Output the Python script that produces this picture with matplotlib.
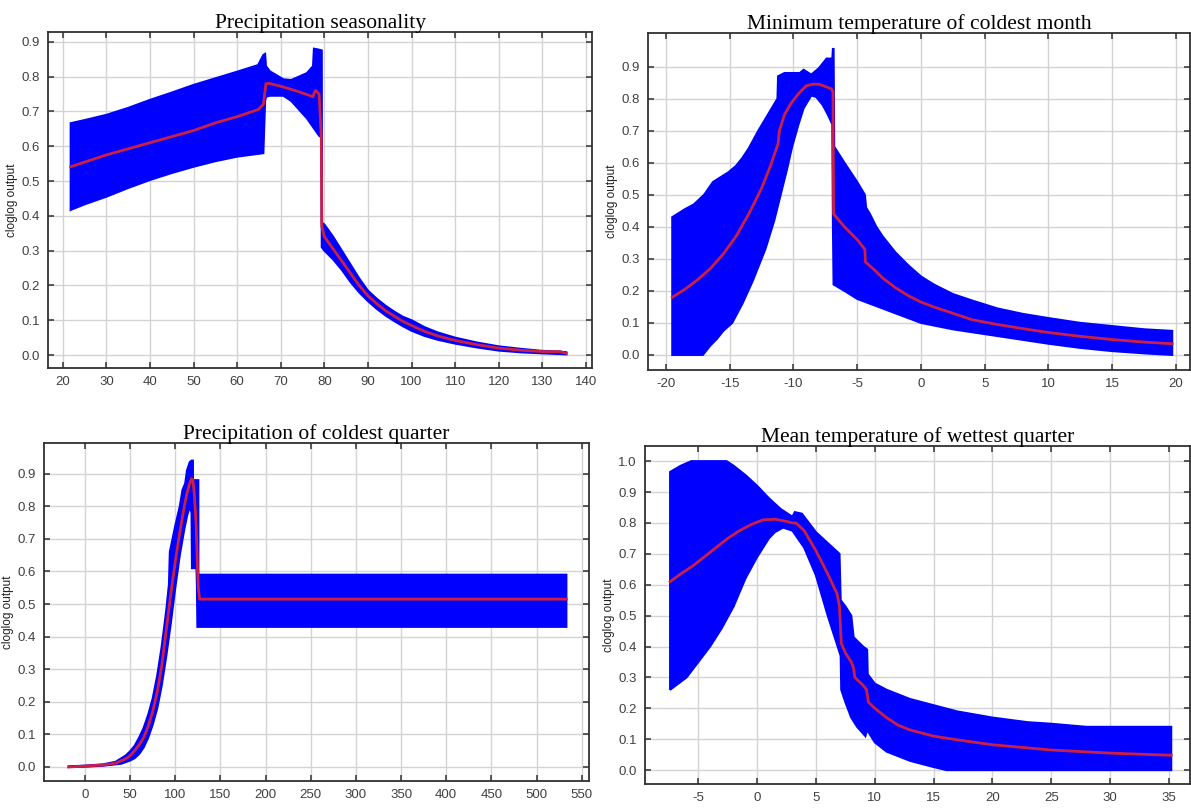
import numpy as np
import matplotlib
matplotlib.use("Agg")
from matplotlib import pyplot as plt

# Precipitation seasonality
ps_mean_x = [21.8, 30, 40, 50, 55, 60, 64.8, 66.0, 66.4, 66.6, 67.5, 70.6, 74, 77.4, 77.7, 78.0, 78.8, 79.3, 79.4, 80, 82, 84, 86, 88, 90, 92, 94, 96, 98, 100, 103, 106, 110, 115, 120, 125, 130, 134, 135.5]
ps_mean   = [0.541, 0.575, 0.61, 0.645, 0.667, 0.685, 0.705, 0.72, 0.76, 0.78, 0.78, 0.77, 0.757, 0.742, 0.755, 0.76, 0.75, 0.62, 0.37, 0.34, 0.305, 0.27, 0.235, 0.2, 0.17, 0.148, 0.128, 0.112, 0.097, 0.085, 0.068, 0.055, 0.042, 0.03, 0.02, 0.014, 0.01, 0.01, 0.005]
ps_up_x   = [21.8, 25, 30, 35, 40, 45, 50, 55, 60, 64.8, 65.5, 66.0, 66.4, 66.6, 67.5, 70.6, 72.4, 76.0, 77.4, 77.6, 78.5, 79.4, 79.45, 80, 82, 84, 86, 88, 90, 92, 94, 96, 98, 100, 103, 106, 110, 115, 120, 125, 130, 134, 135.5]
ps_upper  = [0.666, 0.675, 0.69, 0.71, 0.733, 0.754, 0.776, 0.795, 0.814, 0.833, 0.85, 0.862, 0.865, 0.83, 0.815, 0.792, 0.79, 0.81, 0.83, 0.88, 0.878, 0.875, 0.38, 0.375, 0.34, 0.3, 0.26, 0.22, 0.185, 0.162, 0.142, 0.125, 0.11, 0.1, 0.08, 0.065, 0.05, 0.036, 0.025, 0.018, 0.012, 0.01, 0.008]
ps_lo_x   = [135.5, 134, 130, 125, 120, 115, 110, 106, 103, 100, 98, 96, 94, 92, 90, 88, 86, 84, 82, 80, 79.4, 79.35, 78.8, 76.0, 72.4, 70.6, 67.5, 66.6, 66.4, 66.0, 60, 55, 50, 45, 40, 35, 30, 25, 21.8]
ps_lower  = [0.002, 0.003, 0.005, 0.008, 0.013, 0.022, 0.033, 0.044, 0.055, 0.07, 0.083, 0.098, 0.114, 0.133, 0.155, 0.18, 0.21, 0.245, 0.275, 0.3, 0.31, 0.625, 0.63, 0.68, 0.73, 0.745, 0.745, 0.742, 0.73, 0.58, 0.57, 0.557, 0.541, 0.523, 0.503, 0.48, 0.455, 0.433, 0.417]

# Minimum temperature of coldest month
mt_mean_x = [-19.5, -18.5, -17.5, -16.5, -15.5, -14.5, -13.5, -12.5, -11.8, -11.2, -11.1, -10.7, -10.2, -9.6, -9.0, -8.5, -8.0, -7.5, -7.0, -6.9, -6.85, -6.0, -5.0, -4.4, -4.35, -3.5, -3.0, -2.0, -1.0, 0, 1, 2.5, 4, 6, 8, 10, 12.5, 15, 17.5, 19.7]
mt_mean   = [0.18, 0.205, 0.235, 0.27, 0.315, 0.37, 0.44, 0.52, 0.59, 0.66, 0.70, 0.75, 0.785, 0.815, 0.84, 0.845, 0.845, 0.838, 0.83, 0.82, 0.44, 0.40, 0.36, 0.33, 0.29, 0.26, 0.24, 0.21, 0.185, 0.165, 0.15, 0.13, 0.11, 0.095, 0.082, 0.07, 0.058, 0.048, 0.04, 0.035]
mt_up_x   = [-19.5, -18.5, -17.8, -17.0, -16.3, -15.1, -14.5, -14.0, -13.5, -12.75, -12.0, -11.25, -11.2, -10.7, -9.5, -9.2, -8.6, -8.0, -7.4, -6.95, -6.9, -6.85, -6.8, -6.0, -5.0, -4.4, -4.3, -4.0, -3.5, -3.0, -2.5, -2.0, -1.0, 0, 1, 2.5, 4, 6, 8, 10, 12.5, 15, 17.5, 19.7]
mt_upper  = [0.43, 0.455, 0.47, 0.50, 0.54, 0.57, 0.59, 0.615, 0.645, 0.70, 0.75, 0.80, 0.87, 0.88, 0.88, 0.89, 0.875, 0.895, 0.925, 0.925, 0.955, 0.955, 0.65, 0.60, 0.54, 0.50, 0.46, 0.44, 0.40, 0.37, 0.345, 0.32, 0.28, 0.245, 0.22, 0.19, 0.17, 0.145, 0.128, 0.115, 0.10, 0.09, 0.08, 0.075]
mt_lo_x   = [19.7, 17.5, 15, 12.5, 10, 7.5, 5, 2.5, 0, -1, -2, -3, -4, -5, -6, -6.85, -6.9, -6.95, -7.3, -7.7, -8.2, -8.6, -9.2, -9.6, -10.1, -10.5, -11.0, -11.5, -12.2, -13.2, -14.0, -14.8, -15.5, -16.0, -16.5, -17.1, -19.5]
mt_lower  = [0.0, 0.005, 0.012, 0.022, 0.035, 0.05, 0.065, 0.08, 0.1, 0.115, 0.13, 0.145, 0.16, 0.175, 0.2, 0.22, 0.40, 0.72, 0.75, 0.78, 0.805, 0.81, 0.77, 0.72, 0.65, 0.58, 0.50, 0.42, 0.33, 0.23, 0.16, 0.10, 0.075, 0.05, 0.03, 0.0, 0.0]

# Precipitation of coldest quarter
pc_mean_x = [-18, 0, 20, 34, 45, 50, 55, 60, 65, 70, 75, 80, 85, 90, 95, 100, 105, 110, 113, 116, 118, 119.5, 121, 123, 124.5, 125.5, 127, 533]
pc_mean   = [0.0, 0.003, 0.006, 0.012, 0.025, 0.035, 0.05, 0.068, 0.09, 0.125, 0.17, 0.23, 0.31, 0.42, 0.53, 0.63, 0.72, 0.8, 0.84, 0.87, 0.885, 0.88, 0.84, 0.75, 0.62, 0.55, 0.515, 0.515]
pc_up_x   = [-18, 0, 20, 34, 45, 50, 55, 60, 65, 70, 75, 80, 85, 90, 93, 94, 97, 100, 105, 108, 111, 113, 116, 118, 119.5, 119.6, 125.5, 125.6, 533]
pc_upper  = [0.002, 0.004, 0.008, 0.016, 0.035, 0.048, 0.065, 0.09, 0.12, 0.16, 0.21, 0.28, 0.37, 0.48, 0.56, 0.66, 0.70, 0.74, 0.80, 0.85, 0.87, 0.91, 0.935, 0.94, 0.94, 0.88, 0.88, 0.59, 0.59]
pc_lo_x   = [533, 124.5, 124, 123.5, 118.5, 118, 116, 113, 110, 105, 100, 95, 90, 85, 80, 75, 70, 65, 60, 55, 50, 40, 20, 0, -18]
pc_lower  = [0.43, 0.43, 0.55, 0.61, 0.61, 0.78, 0.80, 0.77, 0.73, 0.65, 0.55, 0.44, 0.34, 0.25, 0.18, 0.13, 0.09, 0.06, 0.04, 0.027, 0.02, 0.01, 0.004, 0.001, 0.0]

# Mean temperature of wettest quarter
mw_mean_x = [-7.4, -6.5, -5.5, -4.5, -3.5, -2.5, -1.5, -0.5, 0.5, 1.5, 2.5, 3.0, 3.3, 4.0, 5.0, 6.0, 6.8, 7.0, 7.15, 7.5, 8.0, 8.2, 8.3, 9.0, 9.3, 9.45, 10, 11, 12, 13, 15, 17, 20, 25, 30, 35.2]
mw_mean   = [0.61, 0.635, 0.66, 0.69, 0.72, 0.75, 0.775, 0.795, 0.81, 0.812, 0.805, 0.80, 0.80, 0.775, 0.71, 0.635, 0.57, 0.53, 0.41, 0.38, 0.35, 0.33, 0.30, 0.275, 0.26, 0.22, 0.2, 0.17, 0.145, 0.13, 0.11, 0.098, 0.082, 0.065, 0.055, 0.048]
mw_up_x   = [-7.4, -6.5, -5.6, -2.6, -2.0, -1.5, -1.0, 0, 1, 2, 3, 3.2, 3.8, 5, 6, 7, 7.1, 7.5, 8.0, 8.2, 9.0, 9.35, 9.4, 10, 11, 12, 13, 15, 17, 20, 23, 25, 28, 35.2]
mw_upper  = [0.965, 0.985, 1.0, 1.0, 0.985, 0.97, 0.955, 0.92, 0.88, 0.845, 0.82, 0.835, 0.83, 0.77, 0.735, 0.70, 0.55, 0.53, 0.50, 0.43, 0.40, 0.39, 0.31, 0.28, 0.26, 0.245, 0.23, 0.21, 0.19, 0.17, 0.155, 0.15, 0.14, 0.14]
mw_lo_x   = [35.2, 16.1, 15, 14, 13, 12, 11, 10, 9.35, 9.2, 8.5, 8, 7.5, 7.15, 7.1, 6, 5, 4, 3, 2.2, 1.5, 1, 0, -1, -2, -3, -4, -5, -6, -7.4]
mw_lower  = [0.0, 0.0, 0.01, 0.02, 0.03, 0.045, 0.06, 0.09, 0.13, 0.11, 0.14, 0.17, 0.22, 0.26, 0.37, 0.50, 0.63, 0.72, 0.775, 0.785, 0.77, 0.75, 0.69, 0.62, 0.53, 0.46, 0.40, 0.35, 0.30, 0.26]

panels = [
    ("Precipitation seasonality", ps_mean_x, ps_mean, ps_up_x, ps_upper, ps_lo_x, ps_lower,
     [0.0403, 0.5446, 0.4568, 0.4158], (16.6, 141.4), (-0.037, 0.928),
     np.arange(20, 141, 10), np.arange(0, 0.91, 0.1)),
    ("Minimum temperature of coldest month", mt_mean_x, mt_mean, mt_up_x, mt_upper, mt_lo_x, mt_lower,
     [0.5441, 0.5421, 0.4551, 0.4171], (-21.4, 21.1), (-0.047, 1.005),
     np.arange(-20, 21, 5), np.arange(0, 0.91, 0.1)),
    ("Precipitation of coldest quarter", pc_mean_x, pc_mean, pc_up_x, pc_upper, pc_lo_x, pc_lower,
     [0.0369, 0.0334, 0.4576, 0.4183], (-45.4, 558), (-0.043, 0.994),
     np.arange(0, 551, 50), np.arange(0, 0.91, 0.1)),
    ("Mean temperature of wettest quarter", mw_mean_x, mw_mean, mw_up_x, mw_upper, mw_lo_x, mw_lower,
     [0.5416, 0.0297, 0.4576, 0.4183], (-9.53, 36.8), (-0.045, 1.049),
     np.arange(-5, 36, 5), np.arange(0, 1.01, 0.1)),
]

plt.rcParams['font.family'] = ['Liberation Sans', 'DejaVu Sans']
plt.rcParams['axes.unicode_minus'] = False

fig = plt.figure(figsize=(11.91, 8.08), dpi=100)

for title, mx, my, ux, uy, lx, ly, pos, xl, yl, xt, yt in panels:
    ax = fig.add_axes(pos)
    # band = upper edge left->right, then lower edge right->left
    ax.fill(list(ux) + list(lx), list(uy) + list(ly), facecolor='#0000ff',
            edgecolor='#0000ff', linewidth=1.5, zorder=2)
    ax.plot(mx, my, color='#cc1f45', linewidth=2.0, zorder=3)
    ax.set_xlim(*xl)
    ax.set_ylim(*yl)
    ax.set_xticks(xt)
    ax.set_yticks(yt)
    ax.set_yticklabels(['%.1f' % v for v in yt])
    ax.grid(True, color='#d4d4d4', linewidth=1.0, zorder=0)
    ax.set_axisbelow(True)
    ax.tick_params(direction='in', length=4, width=1.1, top=True, right=True,
                   labelsize=9.5, labelcolor='#404040', color='#303030', pad=6)
    for s in ax.spines.values():
        s.set_color('#303030')
        s.set_linewidth(1.3)
    ax.set_ylabel('cloglog output', fontsize=8.5, color='#202020', labelpad=2)
    ax.set_title(title, fontsize=15.5, family='Liberation Serif', pad=3)

fig.savefig('out.png', dpi=100)
